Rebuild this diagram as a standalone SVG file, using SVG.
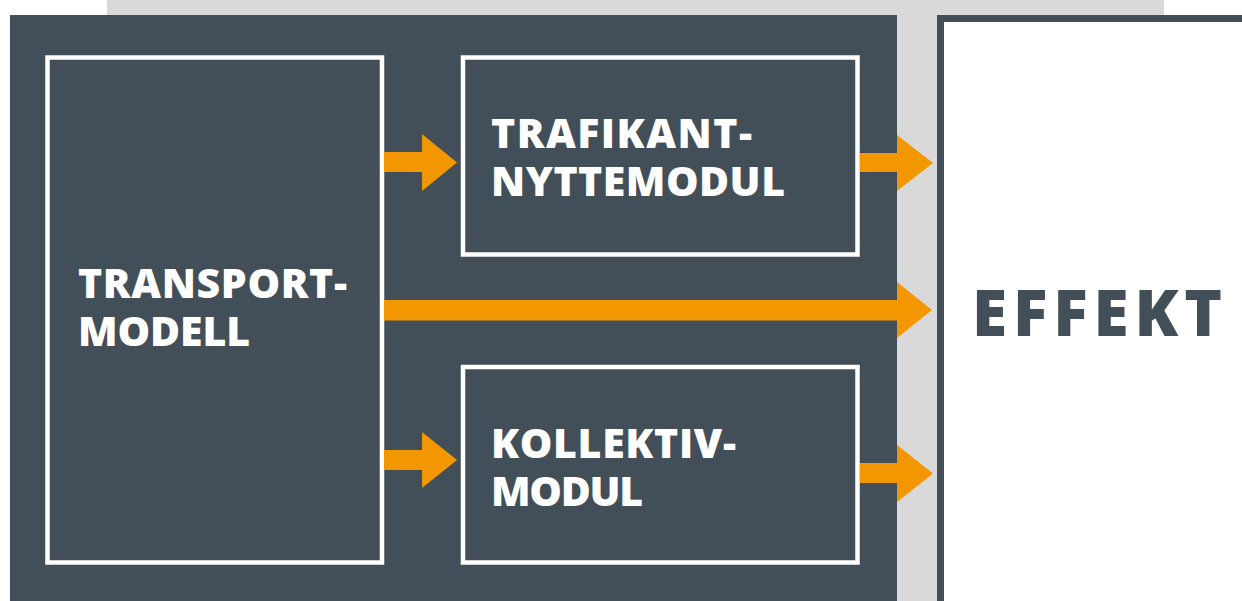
<svg xmlns="http://www.w3.org/2000/svg" width="1242" height="601" viewBox="0 0 1242 601">
  <style>
    .panel { fill: #434f58; }
    .box { fill: none; stroke: #ffffff; stroke-width: 4.5; }
    .label { font-family: "Open Sans", "Liberation Sans", sans-serif; font-weight: 800; font-size: 41px; fill: #ffffff; }
    .big { font-family: "Open Sans", "Liberation Sans", sans-serif; font-weight: 800; font-size: 64px; fill: #434f58; }
    .arrow { fill: #f39700; }
  </style>

  <!-- backdrop -->
  <rect x="0" y="0" width="1242" height="601" fill="#ffffff"/>
  <rect x="107" y="0" width="1057" height="601" fill="#d9d9da"/>

  <!-- dark model panel -->
  <rect class="panel" x="10" y="15" width="887" height="586"/>

  <g id="transportmodell">
    <rect class="box" x="47.5" y="57.5" width="334.5" height="505"/>
    <text class="label" x="78" y="298" textLength="269" lengthAdjust="spacing">TRANSPORT-</text>
    <text class="label" x="78" y="346" textLength="172" lengthAdjust="spacing">MODELL</text>
  </g>

  <g id="trafikantnyttemodul">
    <rect class="box" x="463" y="57.5" width="394.5" height="197"/>
    <text class="label" x="491" y="148" textLength="261" lengthAdjust="spacing">TRAFIKANT-</text>
    <text class="label" x="491" y="196" textLength="294" lengthAdjust="spacing">NYTTEMODUL</text>
  </g>

  <g id="kollektivmodul">
    <rect class="box" x="463" y="367" width="394.5" height="195.5"/>
    <text class="label" x="491" y="458" textLength="245" lengthAdjust="spacing">KOLLEKTIV-</text>
    <text class="label" x="491" y="506" textLength="152" lengthAdjust="spacing">MODUL</text>
  </g>

  <g id="effekt">
    <rect x="940.5" y="18.5" width="320" height="600" fill="#ffffff" stroke="#434f58" stroke-width="7"/>
    <text class="big" x="972" y="336" textLength="250" lengthAdjust="spacing">EFFEKT</text>
  </g>

  <!-- connectors -->
  <g id="connectors">
    <!-- transport -> trafikant -->
    <polygon class="arrow" points="384,152 422,152 422,134 457,162.5 422,191 422,172 384,172"/>
    <!-- trafikant -> effekt -->
    <polygon class="arrow" points="860,153 897,153 897,135 933,163 897,191 897,172 860,172"/>
    <!-- transport -> effekt -->
    <polygon class="arrow" points="384,300 897,300 897,282 932,310 897,338 897,320.5 384,320.5"/>
    <!-- transport -> kollektiv -->
    <polygon class="arrow" points="384,450 422,450 422,432 457,460 422,488 422,470 384,470"/>
    <!-- kollektiv -> effekt -->
    <polygon class="arrow" points="860,463 897,463 897,445 933,473.5 897,502 897,483 860,483"/>
  </g>
</svg>
